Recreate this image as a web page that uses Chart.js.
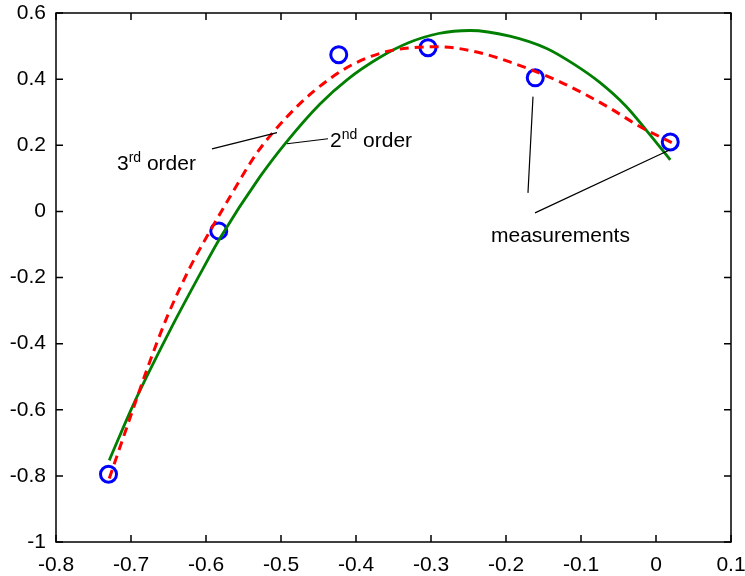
<!DOCTYPE html>
<html>
<head>
<meta charset="utf-8">
<title>Polynomial fit</title>
<script src="https://cdn.jsdelivr.net/npm/chart.js@4.4.1/dist/chart.umd.min.js"></script>
<style>
    html, body { margin: 0; padding: 0; background: #fff; }
    #wrap { width: 745px; height: 576px; position: relative; }
</style>
</head>
<body>
<div id="wrap"><canvas id="chart"></canvas></div>
<script>
// =========================
// DATA
// =========================
const xTicks = [-0.8, -0.7, -0.6, -0.5, -0.4, -0.3, -0.2, -0.1, 0, 0.1];
const xTickLabels = ["-0.8", "-0.7", "-0.6", "-0.5", "-0.4", "-0.3", "-0.2", "-0.1", "0", "0.1"];
const yTicks = [-1, -0.8, -0.6, -0.4, -0.2, 0, 0.2, 0.4, 0.6];
const yTickLabels = ["-1", "-0.8", "-0.6", "-0.4", "-0.2", "0", "0.2", "0.4", "0.6"];

// measured points (blue circles)
const measX = [-0.730, -0.583, -0.423, -0.304, -0.161, 0.019];
const measY = [-0.795, -0.059, 0.474, 0.495, 0.404, 0.210];

// 2nd order fit (green solid line)
const fit2X = [-0.729, -0.697, -0.648, -0.608, -0.581, -0.528, -0.492, -0.448, -0.412, -0.368,
               -0.330, -0.290, -0.248, -0.195, -0.145, -0.110, -0.075, -0.040, -0.012, 0.019];
const fit2Y = [-0.753, -0.585, -0.360, -0.190, -0.080, 0.105, 0.212, 0.325, 0.398, 0.466,
               0.510, 0.538, 0.547, 0.530, 0.492, 0.446, 0.390, 0.318, 0.243, 0.156];

// 3rd order fit (red dashed line)
const fit3X = [-0.729, -0.701, -0.679, -0.652, -0.621, -0.599, -0.568, -0.532, -0.492, -0.457,
               -0.412, -0.368, -0.330, -0.290, -0.239, -0.195, -0.128, -0.065, -0.021, 0.021];
const fit3Y = [-0.808, -0.623, -0.480, -0.320, -0.168, -0.077, 0.044, 0.177, 0.286, 0.362,
               0.435, 0.478, 0.494, 0.498, 0.482, 0.452, 0.392, 0.317, 0.256, 0.208];

// annotation texts (parts with sup = superscript)
const labelThird = [{ t: "3" }, { t: "rd", sup: true }, { t: " order" }];
const labelSecond = [{ t: "2" }, { t: "nd", sup: true }, { t: " order" }];
const labelMeas = [{ t: "measurements" }];

// =========================
// HELPERS
// =========================
const FONT = '"Liberation Sans", Arial, Helvetica, sans-serif';

function toPoints(xs, ys) {
    return xs.map((x, i) => ({ x: x, y: ys[i] }));
}

function drawRich(ctx, x, y, parts) {
    let cx = x;
    parts.forEach(p => {
        ctx.font = (p.sup ? 14 : 21) + "px " + FONT;
        ctx.fillText(p.t, cx, p.sup ? y - 8 : y);
        cx += ctx.measureText(p.t).width;
    });
}

// annotations placed in data coordinates
const annotations = {
    lines: [
        [[-0.592, 0.189], [-0.5053, 0.238]],
        [[-0.492, 0.2045], [-0.4373, 0.2197]],
        [[-0.164, 0.347], [-0.1707, 0.056]],
        [[-0.1613, -0.0045], [0.0187, 0.1864]]
    ],
    texts: [
        { at: [-0.7187, 0.1258], parts: labelThird },
        { at: [-0.4347, 0.1955], parts: labelSecond },
        { at: [-0.2200, -0.0924], parts: labelMeas }
    ]
};

// frame + inward ticks on all four sides, then annotations
const framePlugin = {
    id: "frame",
    afterDraw(chart) {
        const ctx = chart.ctx;
        const a = chart.chartArea;
        const sx = chart.scales.x;
        const sy = chart.scales.y;
        const tl = 7;

        ctx.save();
        ctx.strokeStyle = "#000";
        ctx.lineWidth = 1.5;
        ctx.strokeRect(a.left, a.top, a.right - a.left, a.bottom - a.top);

        ctx.beginPath();
        xTicks.forEach(v => {
            const px = sx.getPixelForValue(v);
            ctx.moveTo(px, a.bottom); ctx.lineTo(px, a.bottom - tl);
            ctx.moveTo(px, a.top); ctx.lineTo(px, a.top + tl);
        });
        yTicks.forEach(v => {
            const py = sy.getPixelForValue(v);
            ctx.moveTo(a.left, py); ctx.lineTo(a.left + tl, py);
            ctx.moveTo(a.right, py); ctx.lineTo(a.right - tl, py);
        });
        ctx.stroke();

        // annotation lines
        ctx.lineWidth = 1.2;
        ctx.beginPath();
        annotations.lines.forEach(l => {
            ctx.moveTo(sx.getPixelForValue(l[0][0]), sy.getPixelForValue(l[0][1]));
            ctx.lineTo(sx.getPixelForValue(l[1][0]), sy.getPixelForValue(l[1][1]));
        });
        ctx.stroke();

        // annotation texts
        ctx.fillStyle = "#000";
        ctx.textBaseline = "alphabetic";
        ctx.textAlign = "left";
        annotations.texts.forEach(t => {
            drawRich(ctx, sx.getPixelForValue(t.at[0]), sy.getPixelForValue(t.at[1]), t.parts);
        });
        ctx.restore();
    }
};

// =========================
// CHART
// =========================
const chart = new Chart(document.getElementById("chart"), {
    type: "scatter",
    data: {
        datasets: [
            {
                label: "3rd order",
                data: toPoints(fit3X, fit3Y),
                showLine: true,
                borderColor: "#ff0000",
                borderWidth: 3,
                borderDash: [9, 6],
                pointRadius: 0,
                cubicInterpolationMode: "monotone",
                fill: false
            },
            {
                label: "2nd order",
                data: toPoints(fit2X, fit2Y),
                showLine: true,
                borderColor: "#007f00",
                borderWidth: 2.8,
                pointRadius: 0,
                cubicInterpolationMode: "monotone",
                fill: false
            },
            {
                label: "measurements",
                data: toPoints(measX, measY),
                showLine: false,
                pointRadius: 8,
                pointBorderWidth: 3,
                pointBorderColor: "#0000ff",
                pointBackgroundColor: "rgba(0,0,0,0)"
            }
        ]
    },
    options: {
        responsive: true,
        maintainAspectRatio: false,
        animation: false,
        layout: { padding: { top: 13, right: 14, left: 0, bottom: 0 } },
        plugins: {
            legend: { display: false },
            tooltip: { enabled: false }
        },
        scales: {
            x: {
                type: "linear",
                min: -0.8,
                max: 0.1,
                afterBuildTicks: s => { s.ticks = xTicks.map(v => ({ value: v })); },
                afterFit: s => {
                    s.height = 34;
                    s.paddingLeft = 0;
                    s.paddingRight = 0;
                },
                grid: { display: false, drawTicks: false },
                border: { display: false },
                ticks: {
                    color: "#000",
                    padding: 11,
                    maxRotation: 0,
                    autoSkip: false,
                    font: { family: FONT, size: 21 },
                    callback: (v, i) => xTickLabels[i]
                }
            },
            y: {
                type: "linear",
                min: -1,
                max: 0.6,
                afterBuildTicks: s => { s.ticks = yTicks.map(v => ({ value: v })); },
                afterFit: s => {
                    s.width = 56;
                    s.paddingTop = 0;
                    s.paddingBottom = 0;
                },
                grid: { display: false, drawTicks: false },
                border: { display: false },
                ticks: {
                    color: "#000",
                    padding: 10,
                    autoSkip: false,
                    font: { family: FONT, size: 21 },
                    callback: (v, i) => yTickLabels[i]
                }
            }
        }
    },
    plugins: [framePlugin]
});
</script>
</body>
</html>
